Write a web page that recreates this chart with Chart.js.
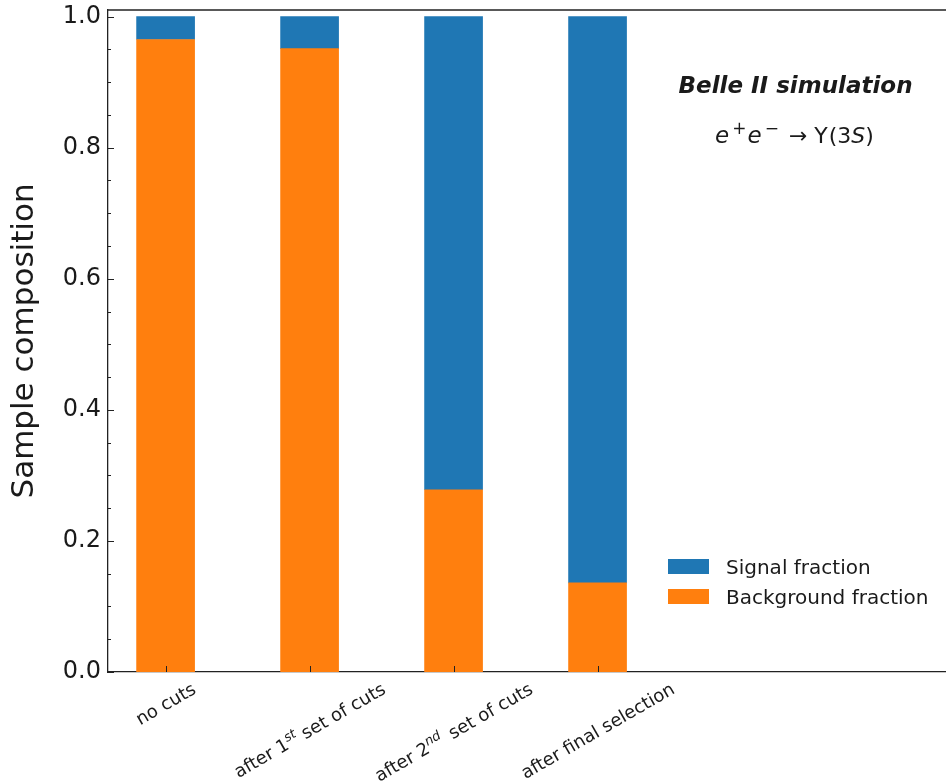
<!DOCTYPE html>
<html>
<head>
<meta charset="utf-8">
<script src="https://cdn.jsdelivr.net/npm/chart.js@4"></script>
<style>
  html, body { margin: 0; padding: 0; background: #ffffff; }
  #wrap { width: 946px; height: 783px; }
</style>
</head>
<body>
<div id="wrap"><canvas id="c" width="946" height="783"></canvas></div>
<script>
// Selection stages; "^{...}" marks a superscript in the axis label
const categories = ['no cuts', 'after 1^{st} set of cuts', 'after 2^{nd} set of cuts', 'after final selection'];
const signalFraction = [0.035, 0.049, 0.722, 0.864];
const backgroundFraction = [0.965, 0.951, 0.278, 0.136];
const yTicks = [0.0, 0.2, 0.4, 0.6, 0.8, 1.0];

const FONT = '"DejaVu Sans", "Liberation Sans", sans-serif';
const INK = '#1a1a1a';
const BLUE = '#1f77b4';
const ORANGE = '#ff7f0e';

function parseLabel(s) {
  const out = [];
  const re = /\^\{([^}]*)\}/g;
  let last = 0, m;
  while ((m = re.exec(s)) !== null) {
    if (m.index > last) out.push({ t: s.slice(last, m.index) });
    out.push({ t: m[1], sup: true });
    last = re.lastIndex;
  }
  if (last < s.length) out.push({ t: s.slice(last) });
  return out;
}

// Draws a run of differently styled pieces centred on x, baseline y
function drawRun(ctx, segs, x, y) {
  let w = 0;
  segs.forEach(s => { ctx.font = s.font; s.w = ctx.measureText(s.t).width; w += s.w + (s.gap || 0); });
  let cx = x - w / 2;
  ctx.textAlign = 'left';
  ctx.textBaseline = 'alphabetic';
  segs.forEach(s => {
    ctx.font = s.font;
    ctx.fillText(s.t, cx, y + (s.dy || 0));
    cx += s.w + (s.gap || 0);
  });
  return w;
}

const decorations = {
  id: 'decorations',
  afterDraw(chart) {
    const ctx = chart.ctx;
    const area = chart.chartArea;
    const xs = chart.scales.x, ys = chart.scales.y;
    ctx.save();

    // top spine
    ctx.strokeStyle = '#222';
    ctx.lineWidth = 1.3;
    ctx.beginPath();
    ctx.moveTo(area.left, area.top);
    ctx.lineTo(area.right, area.top);
    ctx.stroke();

    // inward ticks on the y axis: majors every 0.2, minors every 0.05
    ctx.lineWidth = 1;
    ctx.strokeStyle = '#222';
    for (let i = 0; i <= 20; i++) {
      const v = i * 0.05;
      const py = Math.round(ys.getPixelForValue(v)) + 0.5;
      const len = (i % 4 === 0) ? 6 : 3;
      ctx.beginPath();
      ctx.moveTo(area.left, py);
      ctx.lineTo(area.left + len, py);
      ctx.stroke();
    }

    // inward ticks on the x axis at each stage
    categories.forEach((c, i) => {
      const px = Math.round(xs.getPixelForValue(i)) + 0.5;
      ctx.beginPath();
      ctx.moveTo(px, area.bottom);
      ctx.lineTo(px, area.bottom - 6);
      ctx.stroke();
    });

    // rotated stage labels, bounding box centred under each tick
    const fs = 18;
    const ang = 30 * Math.PI / 180;
    ctx.fillStyle = INK;
    categories.forEach((c, i) => {
      const segs = parseLabel(c).map(p => p.sup
        ? { t: p.t, font: 'italic 13px ' + FONT, dy: -7, gap: p.t === 'nd' ? 3 : 0 }
        : { t: p.t, font: fs + 'px ' + FONT });
      let w = 0;
      segs.forEach(s => { ctx.font = s.font; w += ctx.measureText(s.t).width + (s.gap || 0); });
      const h = fs * 1.164;
      const H = w * Math.sin(ang) + h * Math.cos(ang);
      const cx = xs.getPixelForValue(i);
      const cy = area.bottom + 6 + H / 2;
      ctx.save();
      ctx.translate(cx, cy);
      ctx.rotate(-ang);
      drawRun(ctx, segs, 0, 0.346 * fs);
      ctx.restore();
    });

    // experiment label and process
    ctx.fillStyle = INK;
    ctx.font = 'bold italic 23px ' + FONT;
    ctx.textAlign = 'center';
    ctx.textBaseline = 'alphabetic';
    ctx.fillText('Belle II simulation', 795.5, 93);

    drawRun(ctx, [
      { t: 'e', font: 'italic 23px ' + FONT, gap: 3 },
      { t: '+', font: '17px ' + FONT, dy: -9, gap: 1 },
      { t: 'e', font: 'italic 23px ' + FONT, gap: 3 },
      { t: '\u2212', font: '17px ' + FONT, dy: -9, gap: 10 },
      { t: '\u2192', font: '22px ' + FONT, gap: 7 },
      { t: '\u03A5', font: '22px ' + FONT, gap: 1 },
      { t: '(3', font: '22px ' + FONT },
      { t: 'S', font: 'italic 22px ' + FONT },
      { t: ')', font: '22px ' + FONT }
    ], 794.5, 143);

    // legend: signal first, then background
    const entries = [chart.data.datasets[1], chart.data.datasets[0]];
    ctx.font = '20px ' + FONT;
    ctx.textAlign = 'left';
    entries.forEach((ds, k) => {
      const top = 559 + k * 30;
      ctx.fillStyle = ds.backgroundColor;
      ctx.fillRect(668, top, 41, 15);
      ctx.fillStyle = INK;
      ctx.fillText(ds.label, 726, top + 15);
    });

    ctx.restore();
  }
};

new Chart(document.getElementById('c'), {
  type: 'bar',
  data: {
    datasets: [
      {
        label: 'Background fraction',
        data: categories.map((c, i) => ({ x: i, y: backgroundFraction[i] })),
        backgroundColor: ORANGE,
        barThickness: 58,
        stack: 'composition'
      },
      {
        label: 'Signal fraction',
        data: categories.map((c, i) => ({ x: i, y: signalFraction[i] })),
        backgroundColor: BLUE,
        barThickness: 58,
        stack: 'composition'
      }
    ]
  },
  options: {
    responsive: false,
    animation: false,
    devicePixelRatio: 1,
    layout: { padding: { top: 10, right: 0, bottom: 111, left: 0 } },
    plugins: { legend: { display: false }, tooltip: { enabled: false } },
    scales: {
      x: {
        type: 'linear',
        min: -0.4,
        max: 5.42,
        stacked: true,
        offset: false,
        grid: { display: false, drawTicks: false },
        border: { display: true, color: '#222', width: 1.3 },
        ticks: { display: false },
        afterFit(s) { s.height = 0; s.paddingLeft = 0; s.paddingRight = 0; }
      },
      y: {
        min: 0,
        max: 1.01,
        stacked: true,
        afterBuildTicks(s) { s.ticks = yTicks.map(v => ({ value: v })); },
        grid: { display: false, drawTicks: false },
        border: { display: true, color: '#222', width: 1.3 },
        ticks: {
          callback: v => Number(v).toFixed(1),
          font: { family: FONT, size: 24 },
          color: INK,
          padding: 7
        },
        title: {
          display: true,
          text: 'Sample composition',
          font: { family: FONT, size: 31 },
          color: INK,
          padding: { top: 6, bottom: 0 }
        },
        afterFit(s) { s.width = 108; s.paddingTop = 0; s.paddingBottom = 0; }
      }
    }
  },
  plugins: [decorations]
});
</script>
</body>
</html>
